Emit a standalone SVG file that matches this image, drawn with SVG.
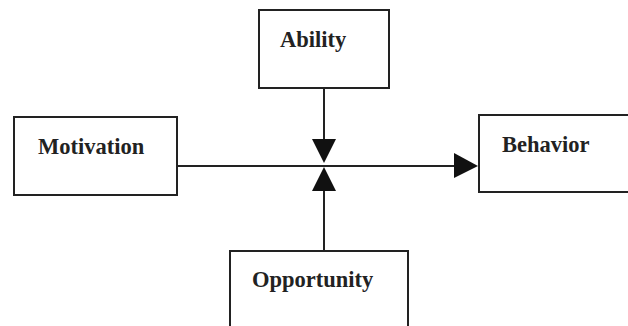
<svg xmlns="http://www.w3.org/2000/svg" width="628" height="326" viewBox="0 0 628 326">
<style>
.box{fill:#fff;stroke:#222;stroke-width:2}
.lbl{font-family:"Liberation Serif","Times New Roman",serif;font-weight:bold;font-size:22.5px;fill:#222}
.ln{stroke:#222;stroke-width:2;fill:none}
.ah{fill:#111}
</style>
<rect width="628" height="326" fill="#fff"/>
<g id="connectors">
<line class="ln" x1="177" y1="166" x2="456" y2="166"/>
<polygon class="ah" points="454,153 478,166 454,178"/>
<line class="ln" x1="324" y1="88" x2="324" y2="140"/>
<polygon class="ah" points="312,139 336,139 324,163"/>
<line class="ln" x1="324" y1="251" x2="324" y2="188"/>
<polygon class="ah" points="312,191 336,191 324,167"/>
</g>
<g id="ability">
<rect class="box" x="259" y="10" width="130" height="78"/>
<text class="lbl" x="280" y="47">Ability</text>
</g>
<g id="motivation">
<rect class="box" x="14" y="117" width="163" height="78"/>
<text class="lbl" x="38" y="154">Motivation</text>
</g>
<g id="behavior">
<rect class="box" x="479" y="115" width="160" height="77"/>
<text class="lbl" x="502" y="152">Behavior</text>
</g>
<g id="opportunity">
<rect class="box" x="230" y="251" width="178" height="90"/>
<text class="lbl" x="252" y="287">Opportunity</text>
</g>
</svg>
